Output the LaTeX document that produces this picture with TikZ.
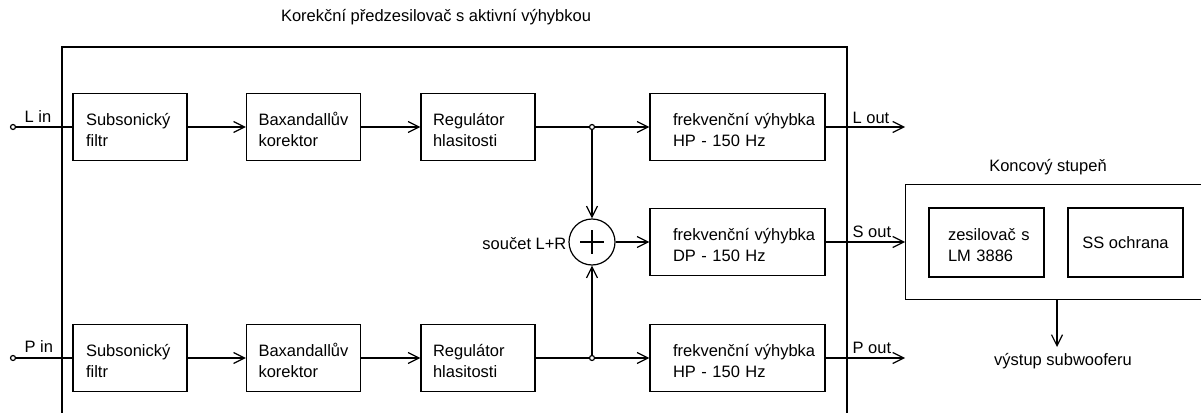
\documentclass[tikz,border=0pt]{standalone}
\usepackage{fontspec}
\setmainfont{Liberation Sans}
\usetikzlibrary{arrows.meta}
\begin{document}
\begin{tikzpicture}[x=1pt,y=-1pt,line width=1.2pt,
  font=\fontsize{16.5}{21}\selectfont,
  blk/.style={draw, minimum height=67, inner ysep=0, align=left,
    execute at begin node={\rule{0pt}{18pt}}},
  w114/.style={text width=114-2*#1, inner xsep=#1},
  w175/.style={text width=175-2*#1, inner xsep=#1},
  arr/.style={-{Straight Barb[length=11pt,width=11pt]}},
  dot/.style={circle, draw, inner sep=0, minimum size=5, fill=white},
  lbl/.style={inner sep=0}]
\useasboundingbox (0,0) rectangle (1201,412);
% outer frame
\node[lbl] (title) at (436,17) {Korekční předzesilovač s aktivní výhybkou};
\coordinate (ob1) at (62,414);
\coordinate (ob2) at (847,414);
\draw (ob1) |- (847,47) -- (ob2);
% L row
\node[dot] (lin) at (13,127) {};
\node[lbl, anchor=base west] (linl) at (24,122) {L in};
\node[blk, w114=13] (sl) at (130,127) {\mbox{Subsonický}\\\mbox{filtr}};
\node[blk, w114=12] (bl) at (303.5,127) {\mbox{Baxandallův}\\\mbox{korektor}};
\node[blk, w114=12] (rl) at (478,127) {\mbox{Regulátor}\\\mbox{hlasitosti}};
\node[dot] (jl) at (592,127) {};
\node[blk, w175=23] (fl) at (737.5,127) {\mbox{frekvenční výhybka}\\\mbox{HP - 150 Hz}};
\coordinate (lout) at (905,127);
\node[lbl, anchor=base west] (loutl) at (852,123) {L out};
% P row
\node[dot] (pin) at (13,358) {};
\node[lbl, anchor=base west] (pinl) at (24,352) {P in};
\node[blk, w114=13] (sp) at (130,358) {\mbox{Subsonický}\\\mbox{filtr}};
\node[blk, w114=12] (bp) at (303.5,358) {\mbox{Baxandallův}\\\mbox{korektor}};
\node[blk, w114=12] (rp) at (478,358) {\mbox{Regulátor}\\\mbox{hlasitosti}};
\node[dot] (jp) at (592,358) {};
\node[blk, w175=23] (fp) at (737.5,358) {\mbox{frekvenční výhybka}\\\mbox{HP - 150 Hz}};
\coordinate (pout) at (905,358);
\node[lbl, anchor=base west] (poutl) at (852,353) {P out};
% sum row
\node[circle, draw, minimum size=46, inner sep=0,
  path picture={\draw (path picture bounding box.center) +(-12,0) -- +(12,0)
                      (path picture bounding box.center) +(0,-12) -- +(0,12);}]
  (sum) at (592,242) {};
\node[lbl, anchor=base east] (suml) at (567,249) {součet L+R};
\node[blk, w175=23] (fs) at (737.5,242) {\mbox{frekvenční výhybka}\\\mbox{DP - 150 Hz}};
\node[lbl, anchor=base west] (soutl) at (852,237) {S out};
% power stage
\node[draw, anchor=north west, minimum width=310, minimum height=115, inner sep=0] (amp) at (905,184) {};
\node[lbl] (ampt) at (1048,167) {Koncový stupeň};
\node[blk, minimum height=69, text width=115-2*19, inner xsep=19] (zes) at (986.5,242.5) {\mbox{zesilovač s}\\\mbox{LM 3886}};
\node[draw, minimum height=69, minimum width=115] (ss) at (1125.5,242.5) {SS ochrana};
\coordinate (subc) at (1057,347);
\node[lbl] (subl) at (1063,361) {výstup subwooferu};
% connectors
\draw (lin) -- (sl);
\draw[arr] (sl) -- (bl);
\draw[arr] (bl) -- (rl);
\draw (rl) -- (jl);
\draw[arr] (jl) -- (fl);
\draw[arr] (fl) -- (lout);
\draw (pin) -- (sp);
\draw[arr] (sp) -- (bp);
\draw[arr] (bp) -- (rp);
\draw (rp) -- (jp);
\draw[arr] (jp) -- (fp);
\draw[arr] (fp) -- (pout);
\draw[arr] (jl) -- (sum);
\draw[arr] (jp) -- (sum);
\draw[arr] (sum) -- (fs);
\draw[arr] (fs) -- (fs.east -| amp.west);
\draw[arr] (amp.south -| subc) -- (subc);
\end{tikzpicture}
\end{document}
